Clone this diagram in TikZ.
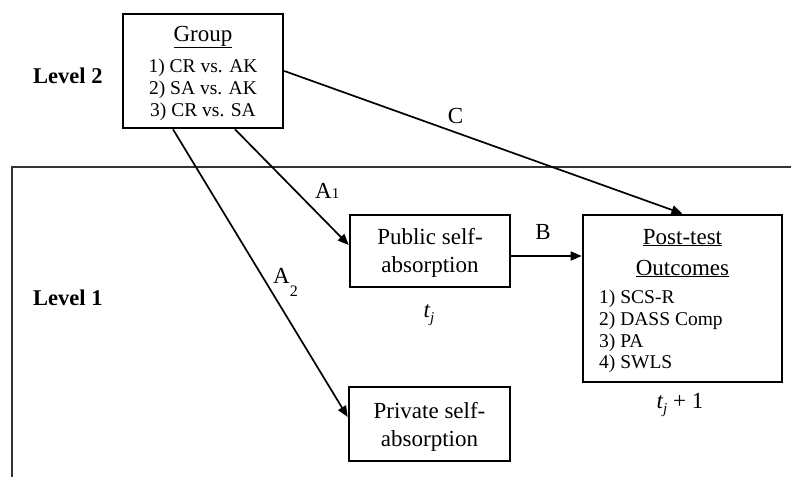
\documentclass[tikz,border=0pt]{standalone}
\usepackage{fontspec}
\setmainfont{Liberation Serif}
\usetikzlibrary{arrows.meta,calc}
\tikzset{
  box/.style={draw, line width=2.6pt, inner sep=0pt},
  txt/.style={inner sep=0pt, anchor=base, font=\fontsize{23}{28}\selectfont},
  lst/.style={inner sep=0pt, anchor=base, font=\fontsize{19.5}{22}\selectfont},
  lvl/.style={inner sep=0pt, anchor=base west, font=\fontsize{22.5}{26}\selectfont\bfseries},
  arr/.style={line width=1.7pt, -{Triangle[length=11pt,width=9pt]}},
  frame/.style={line width=1.3pt, draw=black!80}
}
\begin{document}
\begin{tikzpicture}[x=1pt,y=-1pt]
\useasboundingbox (0,0) rectangle (791,477);
% Level 1 frame
\draw[frame] (791,167) -- (12,167) -- (12,477);
% boxes
\node[box, minimum width=160pt, minimum height=114pt] (group) at (203,71) {};
\node[box, minimum width=160pt, minimum height=72pt] (pub) at (430,251) {};
\node[box, minimum width=199pt, minimum height=167pt] (post) at (682.5,298.5) {};
\node[box, minimum width=161pt, minimum height=74pt] (priv) at (429.5,424) {};
% level labels
\node[lvl] (l2) at (33,83) {Level 2};
\node[lvl] (l1) at (33,305) {Level 1};
% group text
\node[txt] (gt) at (203,41) {\underline{Group}};
\node[lst] (g1) at (203,72) {1) CR vs. AK};
\node[lst] (g2) at (203,94) {2) SA vs. AK};
\node[lst] (g3) at (203,116) {3) CR vs. SA};
% public text
\node[txt] (p1) at (430,244) {Public self-};
\node[txt] (p2) at (430,272) {absorption};
% private text
\node[txt] (v1) at (429.5,418) {Private self-};
\node[txt] (v2) at (429.5,446) {absorption};
% post-test text
\node[txt] (o1) at (682.5,244) {\underline{Post-test}};
\node[txt] (o2) at (682.5,275) {\underline{Outcomes}};
\node[lst, anchor=base west] (o3) at (599,303) {1) SCS-R};
\node[lst, anchor=base west] (o4) at (599,325) {2) DASS Comp};
\node[lst, anchor=base west] (o5) at (599,347) {3) PA};
\node[lst, anchor=base west] (o6) at (599,368) {4) SWLS};
% time labels
\node[txt] (tj) at (429,317) {\textit{t\raisebox{-0.22em}{\fontsize{15}{15}\selectfont j}}};
\node[txt] (tj1) at (680,408) {\textit{t\raisebox{-0.22em}{\fontsize{15}{15}\selectfont j}} + 1};
% connectors
\draw[arr] (group.east) -- node[pos=0.43, above=8pt, inner sep=0pt, font=\fontsize{23}{28}\selectfont] (lc) {C} (post.north);
\draw[arr] ($(group.south)+(32,0)$) -- ($(pub.west)+(0,-6)$);
\draw[arr] ($(group.south)+(-30,0)$) -- ($(priv.west)+(0,-7)$);
\draw[arr] ($(pub.east)+(0,5)$) -- ($(post.west)+(0,-42.5)$);
% connector labels
\node[txt, anchor=base west] (la1) at (315,198) {A{\fontsize{15}{15}\selectfont 1}};
\node[txt, anchor=base west] (la2) at (273,283) {A\raisebox{-0.6em}{\fontsize{16}{16}\selectfont 2}};
\node[txt] (lb) at (543,239) {B};
\end{tikzpicture}
\end{document}
